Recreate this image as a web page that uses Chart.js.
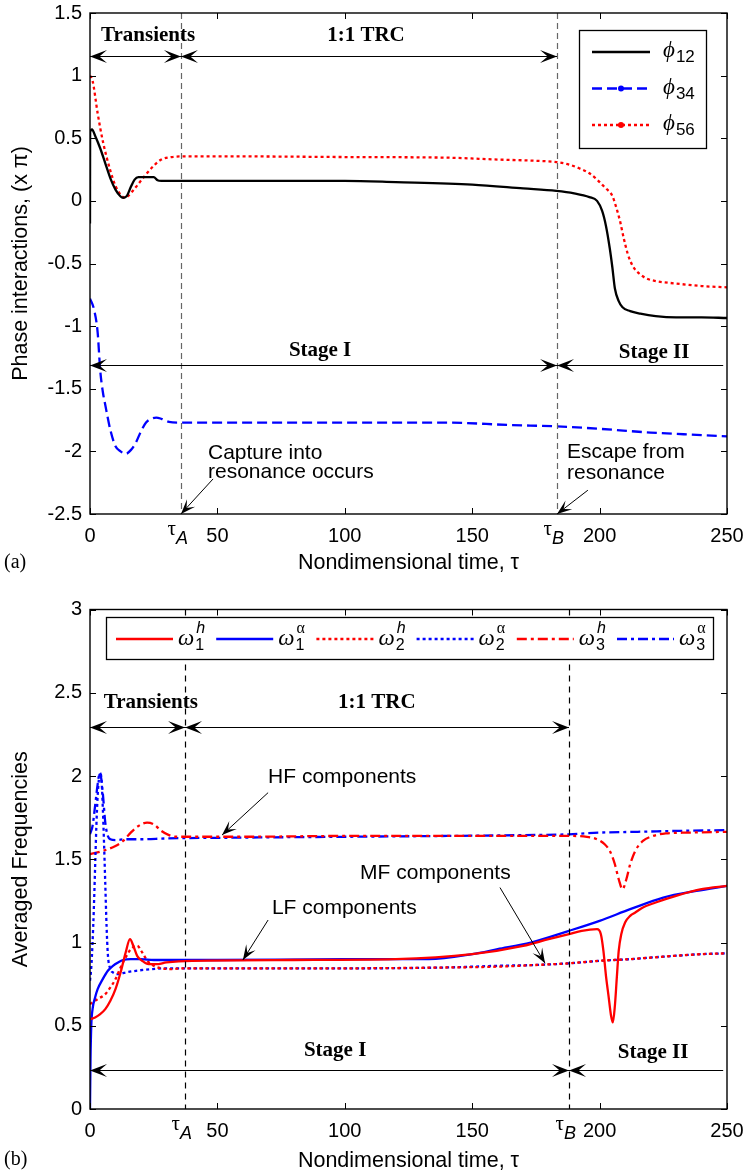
<!DOCTYPE html>
<html lang="en">
<head>
<meta charset="UTF-8">
<title>Phase interactions and averaged frequencies</title>
<script src="https://cdn.jsdelivr.net/npm/chart.js@4.4.0/dist/chart.umd.min.js"></script>
<style>
    body { margin: 0; background: #fff; }
    #wrap { position: relative; width: 745px; height: 1174px; }
    canvas { position: absolute; left: 0; }
</style>
</head>
<body>
<div id="wrap">
    <canvas id="chartA" width="745" height="580" style="top:0"></canvas>
    <canvas id="chartB" width="745" height="594" style="top:580px"></canvas>
</div>

<script>
    // ---- panel (a) : phase interactions ----
    const tauA_a = 35.7, tauB_a = 183.3;
    const namesA = ['ϕ12', 'ϕ34', 'ϕ56'];

    const t12   = [0, 0.05, 0.8, 2, 4, 6, 8, 10, 12, 13, 14.5, 16, 17.5, 19, 22, 25, 26.5, 28, 50, 80, 100, 120, 150, 170, 183, 190, 196, 199, 201, 202.5, 204, 205, 206, 207.5, 209, 212, 216, 222, 230, 240, 250];
    const phi12 = [-0.18, 0.55, 0.57, 0.52, 0.42, 0.3, 0.18, 0.09, 0.035, 0.025, 0.04, 0.11, 0.17, 0.19, 0.19, 0.19, 0.165, 0.16, 0.16, 0.16, 0.16, 0.15, 0.13, 0.1, 0.08, 0.06, 0.03, 0.0, -0.08, -0.2, -0.38, -0.53, -0.7, -0.8, -0.85, -0.88, -0.9, -0.92, -0.93, -0.93, -0.935];

    const t34   = [0, 1.5, 3, 4, 5, 6, 8, 10, 12, 14, 16, 18, 20, 22, 24, 26, 28, 31, 35, 60, 100, 140, 165, 183, 200, 220, 240, 250];
    const phi34 = [-0.78, -0.86, -1.05, -1.35, -1.52, -1.63, -1.83, -1.96, -2.0, -2.02, -1.99, -1.93, -1.84, -1.77, -1.74, -1.73, -1.74, -1.765, -1.77, -1.77, -1.77, -1.77, -1.79, -1.8, -1.82, -1.85, -1.87, -1.88];

    const t56   = [0, 1, 3, 5, 8, 10, 12, 13.5, 15, 18, 21.5, 25, 28, 32, 36, 60, 100, 140, 160, 175, 183, 188, 192, 196, 199, 201, 203, 205, 206.5, 208, 209.5, 211, 213, 215.5, 218.5, 222, 230, 240, 250];
    const phi56 = [1.0, 0.96, 0.7, 0.48, 0.24, 0.12, 0.05, 0.025, 0.04, 0.11, 0.2, 0.28, 0.33, 0.35, 0.355, 0.355, 0.35, 0.345, 0.33, 0.32, 0.31, 0.29, 0.26, 0.22, 0.17, 0.13, 0.09, 0.04, -0.05, -0.16, -0.3, -0.42, -0.52, -0.58, -0.62, -0.64, -0.66, -0.68, -0.69];

    // ---- panel (b) : averaged frequencies ----
    const tauA_b = 37.3, tauB_b = 188;
    const namesB = ['ω1h', 'ω1α', 'ω2h', 'ω2α', 'ω3h', 'ω3α'];

    const tw1h = [0.3, 2, 4, 6, 8, 10, 12, 14, 15.7, 17, 18.5, 20.5, 23, 26, 30, 40, 80, 120, 150, 170, 180, 188, 193, 199, 200.5, 201.5, 202.5, 203.5, 204.5, 205.2, 206, 206.8, 207.5, 208.5, 210, 212, 214, 217, 222, 230, 240, 250];
    const w1h  = [0.54, 0.55, 0.57, 0.6, 0.65, 0.72, 0.82, 0.94, 1.02, 0.98, 0.92, 0.89, 0.87, 0.87, 0.88, 0.89, 0.895, 0.9, 0.93, 0.98, 1.02, 1.05, 1.07, 1.08, 1.05, 0.95, 0.8, 0.68, 0.56, 0.52, 0.62, 0.8, 0.95, 1.05, 1.12, 1.16, 1.18, 1.21, 1.24, 1.28, 1.32, 1.34];

    const tw1a = [0, 0.2, 0.5, 1, 2, 3, 5, 7, 9, 11, 13, 16, 20, 25, 30, 50, 100, 133, 150, 160, 173, 188, 200, 212, 225, 238, 250];
    const w1a  = [0, 0.3, 0.5, 0.6, 0.67, 0.72, 0.78, 0.83, 0.86, 0.88, 0.895, 0.9, 0.9, 0.895, 0.895, 0.895, 0.9, 0.9, 0.93, 0.96, 1.0, 1.07, 1.13, 1.2, 1.27, 1.31, 1.34];

    const tw2h = [0, 3, 6, 8, 10, 12, 14, 16, 18.5, 20.5, 22.5, 25, 28, 32, 36, 60, 100, 140, 160, 175, 188, 200, 212, 225, 240, 250];
    const w2h  = [0.63, 0.66, 0.69, 0.73, 0.78, 0.85, 0.91, 0.96, 0.98, 0.94, 0.89, 0.86, 0.845, 0.84, 0.845, 0.845, 0.845, 0.85, 0.855, 0.865, 0.875, 0.89, 0.9, 0.915, 0.93, 0.935];

    const tw2a = [0, 0.5, 1, 1.5, 2, 2.5, 3, 3.5, 4, 4.5, 5, 5.5, 6, 6.5, 7, 8, 9, 11, 14, 18, 24, 30, 60, 100, 140, 160, 175, 188, 200, 212, 225, 240, 250];
    const w2a  = [0.77, 0.85, 1.0, 1.2, 1.45, 1.7, 1.88, 1.98, 2.02, 1.98, 1.82, 1.6, 1.35, 1.1, 0.93, 0.84, 0.82, 0.81, 0.82, 0.83, 0.84, 0.845, 0.845, 0.845, 0.85, 0.86, 0.865, 0.875, 0.89, 0.9, 0.915, 0.93, 0.935];

    const tw3h = [0, 5, 10, 13, 16, 19, 22.4, 25, 28, 31, 34, 40, 60, 100, 140, 170, 188, 195, 199, 202, 204, 206, 207.5, 209, 210.5, 212, 214, 217, 221, 226, 235, 250];
    const w3h  = [1.53, 1.55, 1.58, 1.61, 1.66, 1.7, 1.72, 1.71, 1.67, 1.645, 1.635, 1.635, 1.635, 1.64, 1.64, 1.64, 1.64, 1.635, 1.62, 1.59, 1.55, 1.47, 1.38, 1.32, 1.38, 1.47, 1.55, 1.61, 1.64, 1.655, 1.66, 1.665];

    const tw3a = [0, 1, 2, 3, 3.9, 5, 6, 7, 8, 10, 14, 20, 30, 60, 100, 140, 170, 188, 200, 215, 230, 250];
    const w3a  = [1.65, 1.7, 1.82, 1.95, 2.02, 1.9, 1.72, 1.64, 1.62, 1.615, 1.62, 1.62, 1.625, 1.63, 1.635, 1.64, 1.645, 1.65, 1.66, 1.665, 1.67, 1.675];

    // ---- drawing helpers ----
    const SANS = '"Liberation Sans", Arial, Helvetica, sans-serif';
    const SERIF = '"Liberation Serif", "Times New Roman", serif';
    Chart.defaults.font.family = SANS;
    Chart.defaults.color = '#000';

    const DOT = [3, 3], DASH = [10, 5], DASHDOT = [10, 4, 3, 4];

    let pts = (xs, ys) => xs.map((v, i) => ({x: v, y: ys[i]}));

    function head(ctx, x, y, ang, len, half) {
        ctx.save();
        ctx.translate(x, y);
        ctx.rotate(ang);
        ctx.beginPath();
        ctx.moveTo(0, 0);
        ctx.lineTo(-len, -half);
        ctx.lineTo(-len * 0.55, 0);
        ctx.lineTo(-len, half);
        ctx.closePath();
        ctx.fill();
        ctx.restore();
    }

    // symbol like phi_12 or omega_1^h
    function drawSym(ctx, x, y, name, big, small) {
        let base = name[0];
        let sub = name.slice(1).replace(/[^0-9]/g, '');
        let sup = name.slice(1).replace(/[0-9]/g, '');
        ctx.textAlign = 'left';
        ctx.textBaseline = 'alphabetic';
        ctx.font = 'italic ' + big + 'px ' + SERIF;
        ctx.fillText(base, x, y);
        let w = ctx.measureText(base).width + 1;
        ctx.font = small + 'px ' + SANS;
        ctx.fillText(sub, x + w, y + 5);
        if (sup) {
            ctx.font = (sup === 'h' ? 'italic ' : '') + small + 'px ' + (sup === 'h' ? SANS : SERIF);
            ctx.fillText(sup, x + w + 1, y - 12);
        }
    }

    function makeDeco(cfg) {
        return {
            id: 'deco' + cfg.tag,
            afterDatasetsDraw(chart) {
                const ctx = chart.ctx, ca = chart.chartArea;
                const xs = chart.scales.x, ys = chart.scales.y;
                const X = v => xs.getPixelForValue(v), Y = v => ys.getPixelForValue(v);
                ctx.save();

                // tau_A / tau_B marker lines
                ctx.strokeStyle = cfg.markColor;
                ctx.lineWidth = 1.2;
                ctx.setLineDash(cfg.markDash);
                cfg.marks.forEach(t => {
                    let px = Math.round(X(t)) + 0.5;
                    ctx.beginPath(); ctx.moveTo(px, ca.top); ctx.lineTo(px, ca.bottom); ctx.stroke();
                });
                ctx.setLineDash([]);

                // double arrows
                ctx.strokeStyle = '#000';
                ctx.fillStyle = '#000';
                cfg.spans.forEach(s => {
                    let x1 = X(s.from), x2 = X(s.to), y = Math.round(Y(s.y)) + 0.5;
                    ctx.lineWidth = 1;
                    ctx.beginPath(); ctx.moveTo(x1, y); ctx.lineTo(x2, y); ctx.stroke();
                    let dir = x2 > x1 ? 1 : -1;
                    if (s.heads[0]) head(ctx, x1, y, dir > 0 ? Math.PI : 0, 17, 6.5);
                    if (s.heads[1]) head(ctx, x2, y, dir > 0 ? 0 : Math.PI, 17, 6.5);
                });

                // pointer arrows
                cfg.pointers.forEach(p => {
                    let x1 = X(p.x1), y1 = Y(p.y1), x2 = X(p.x2), y2 = Y(p.y2);
                    ctx.lineWidth = 1;
                    ctx.beginPath(); ctx.moveTo(x1, y1); ctx.lineTo(x2, y2); ctx.stroke();
                    head(ctx, x2, y2, Math.atan2(y2 - y1, x2 - x1), 15, 5.5);
                });

                // texts
                cfg.texts.forEach(t => {
                    ctx.font = t.bold ? 'bold 21px ' + SERIF : '21px ' + SANS;
                    ctx.textAlign = t.left ? 'left' : 'center';
                    ctx.textBaseline = 'middle';
                    ctx.fillText(t.s, X(t.x), Y(t.y));
                });

                // legend
                let L = cfg.legend;
                ctx.fillStyle = '#fff';
                ctx.fillRect(L.x, L.y, L.w, L.h);
                ctx.strokeStyle = '#000';
                ctx.lineWidth = 1.3;
                ctx.strokeRect(L.x + 0.5, L.y + 0.5, L.w, L.h);
                chart.data.datasets.forEach((d, i) => {
                    let lx = L.vertical ? L.x + 13 : L.x + 10 + i * L.step;
                    let ly = L.vertical ? L.y + 22 + i * 36.5 : L.y + 22;
                    ctx.strokeStyle = d.borderColor;
                    ctx.lineWidth = d.borderWidth;
                    ctx.setLineDash(d.borderDash || []);
                    ctx.beginPath(); ctx.moveTo(lx, ly); ctx.lineTo(lx + L.len, ly); ctx.stroke();
                    ctx.setLineDash([]);
                    if (L.dots && i > 0) {
                        ctx.fillStyle = d.borderColor;
                        ctx.beginPath(); ctx.arc(lx + L.len / 2, ly, 3, 0, 2 * Math.PI); ctx.fill();
                    }
                    ctx.fillStyle = '#000';
                    drawSym(ctx, lx + L.len + L.gap, ly + L.base, d.label, L.big, L.small);
                });

                // box and inward ticks
                ctx.strokeStyle = '#000';
                ctx.lineWidth = 1.4;
                ctx.strokeRect(ca.left, ca.top, ca.right - ca.left, ca.bottom - ca.top);
                ctx.lineWidth = 1;
                xs.ticks.forEach(t => {
                    let px = Math.round(X(t.value)) + 0.5;
                    ctx.beginPath();
                    ctx.moveTo(px, ca.bottom); ctx.lineTo(px, ca.bottom - 6);
                    ctx.moveTo(px, ca.top); ctx.lineTo(px, ca.top + 6);
                    ctx.stroke();
                });
                ys.ticks.forEach(t => {
                    let py = Math.round(Y(t.value)) + 0.5;
                    ctx.beginPath();
                    ctx.moveTo(ca.left, py); ctx.lineTo(ca.left + 6, py);
                    ctx.moveTo(ca.right, py); ctx.lineTo(ca.right - 6, py);
                    ctx.stroke();
                });

                // tau_A, tau_B tick labels
                cfg.marks.forEach((t, i) => {
                    let px = X(t) - 5;
                    ctx.fillStyle = '#000';
                    ctx.textBaseline = 'alphabetic';
                    ctx.textAlign = 'right';
                    ctx.font = '21px ' + SERIF;
                    ctx.fillText('τ', px, ca.bottom + 21);
                    ctx.textAlign = 'left';
                    ctx.font = 'italic 18px ' + SANS;
                    ctx.fillText(['A', 'B'][i], px, ca.bottom + 30);
                });

                // panel letter
                ctx.font = '20px ' + SERIF;
                ctx.textAlign = 'left';
                ctx.textBaseline = 'middle';
                ctx.fillText(cfg.letter, 4, chart.height - cfg.letterOff);
                ctx.restore();
            }
        };
    }

    function line(label, xs, ys, color, dash) {
        return {
            label: label, data: pts(xs, ys), borderColor: color, backgroundColor: color,
            borderWidth: 2.3, borderDash: dash, pointRadius: 0, fill: false,
            cubicInterpolationMode: 'monotone', borderCapStyle: 'butt'
        };
    }

    function axes(yMin, yMax, yTitle, xHeight, xPadBottom) {
        return {
            x: {
                type: 'linear', min: 0, max: 250,
                ticks: {stepSize: 50, autoSkip: false, maxRotation: 0, padding: 10, font: {size: 20}},
                grid: {display: false, drawTicks: false}, border: {display: false},
                title: {display: true, text: 'Nondimensional time, τ', font: {size: 21.5}, padding: {top: 0, bottom: xPadBottom}},
                afterFit: s => { s.height = xHeight; s.paddingLeft = 0; s.paddingRight = 0; }
            },
            y: {
                min: yMin, max: yMax,
                ticks: {stepSize: 0.5, padding: 8, font: {size: 20}, callback: v => String(+v.toFixed(1))},
                grid: {display: false, drawTicks: false}, border: {display: false},
                title: {display: true, text: yTitle, font: {size: 21.5}, padding: {top: 8, bottom: 0}},
                afterFit: s => { s.width = 90; s.paddingTop = 0; s.paddingBottom = 0; }
            }
        };
    }

    const decoA = makeDeco({
        tag: 'A', letter: '(a)', letterOff: 17,
        marks: [tauA_a, tauB_a], markColor: '#666', markDash: [6, 4],
        spans: [
            {y: 1.16, from: 0, to: tauA_a, heads: [1, 1]},
            {y: 1.16, from: tauA_a, to: tauB_a, heads: [1, 1]},
            {y: -1.31, from: 0, to: tauB_a, heads: [1, 1]},
            {y: -1.31, from: tauB_a, to: 248.5, heads: [1, 0]}
        ],
        pointers: [
            {x1: 48.3, y1: -2.22, x2: tauA_a, y2: -2.5},
            {x1: 195.4, y1: -2.31, x2: tauB_a, y2: -2.5}
        ],
        texts: [
            {s: 'Transients', x: 22.8, y: 1.316, bold: true},
            {s: '1:1 TRC', x: 108.3, y: 1.316, bold: true},
            {s: 'Stage I', x: 90.3, y: -1.194, bold: true},
            {s: 'Stage II', x: 221.4, y: -1.21, bold: true},
            {s: 'Capture into', x: 46.3, y: -2.017, left: true},
            {s: 'resonance occurs', x: 46.3, y: -2.17, left: true},
            {s: 'Escape from', x: 187.2, y: -2.01, left: true},
            {s: 'resonance', x: 187.2, y: -2.177, left: true}
        ],
        legend: {x: 579, y: 30, w: 127, h: 118, vertical: true, len: 58, gap: 13, base: 5, big: 23, small: 17, dots: true}
    });

    const decoB = makeDeco({
        tag: 'B', letter: '(b)', letterOff: 14,
        marks: [tauA_b, tauB_b], markColor: '#000', markDash: [6, 5],
        spans: [
            {y: 2.294, from: 0, to: tauA_b, heads: [1, 1]},
            {y: 2.294, from: tauA_b, to: tauB_b, heads: [1, 1]},
            {y: 0.233, from: 0, to: tauB_b, heads: [1, 1]},
            {y: 0.233, from: tauB_b, to: 248.5, heads: [1, 0]}
        ],
        pointers: [
            {x1: 69.9, y1: 1.9, x2: 51.8, y2: 1.645},
            {x1: 69.9, y1: 1.135, x2: 60.0, y2: 0.895},
            {x1: 160.9, y1: 1.33, x2: 178.6, y2: 0.875}
        ],
        texts: [
            {s: 'Transients', x: 23.9, y: 2.438, bold: true},
            {s: '1:1 TRC', x: 112.6, y: 2.438, bold: true},
            {s: 'Stage I', x: 96.2, y: 0.353, bold: true},
            {s: 'Stage II', x: 221, y: 0.341, bold: true},
            {s: 'HF components', x: 69.9, y: 1.993, left: true},
            {s: 'MF components', x: 106, y: 1.416, left: true},
            {s: 'LF components', x: 71.4, y: 1.206, left: true}
        ],
        legend: {x: 106, y: 37, w: 607, h: 42, vertical: false, step: 100.2, len: 57, gap: 5, base: 6, big: 23, small: 16, dots: false}
    });

    new Chart(document.getElementById('chartA'), {
        type: 'line',
        data: {
            datasets: [
                line(namesA[0], t12, phi12, '#000000', []),
                line(namesA[1], t34, phi34, '#0000ff', DASH),
                line(namesA[2], t56, phi56, '#ff0000', DOT)
            ]
        },
        options: {
            responsive: false, animation: false,
            layout: {padding: {top: 13, right: 18, left: 0, bottom: 0}},
            plugins: {legend: {display: false}, tooltip: {enabled: false}},
            scales: axes(-2.5, 1.5, 'Phase interactions, (x π)', 66, 4)
        },
        plugins: [decoA]
    });

    new Chart(document.getElementById('chartB'), {
        type: 'line',
        data: {
            datasets: [
                line(namesB[0], tw1h, w1h, '#ff0000', []),
                line(namesB[1], tw1a, w1a, '#0000ff', []),
                line(namesB[2], tw2h, w2h, '#ff0000', DOT),
                line(namesB[3], tw2a, w2a, '#0000ff', DOT),
                line(namesB[4], tw3h, w3h, '#ff0000', DASHDOT),
                line(namesB[5], tw3a, w3a, '#0000ff', DASHDOT)
            ]
        },
        options: {
            responsive: false, animation: false,
            layout: {padding: {top: 29.5, right: 18, left: 0, bottom: 0}},
            plugins: {legend: {display: false}, tooltip: {enabled: false}},
            scales: axes(0, 3, 'Averaged Frequencies', 65, 0)
        },
        plugins: [decoB]
    });
</script>
</body>
</html>
